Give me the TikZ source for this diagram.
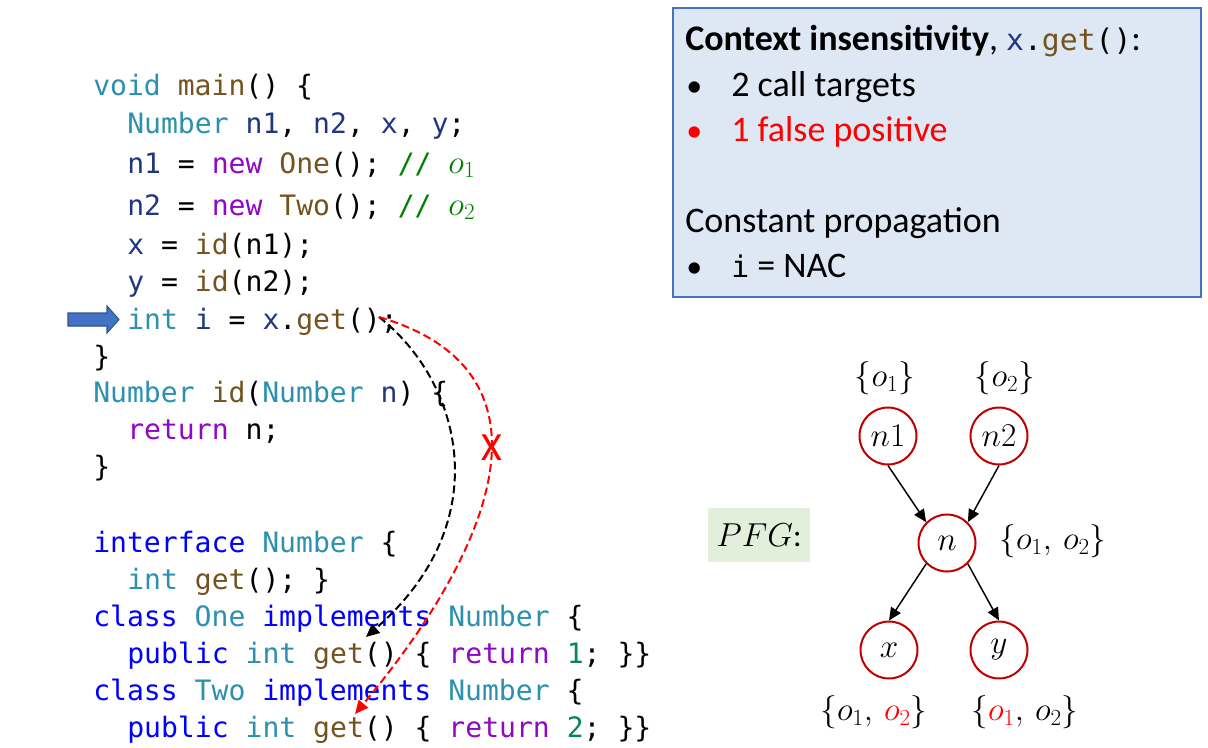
\documentclass[tikz,border=0pt]{standalone}
\usepackage{fontspec}
\setmainfont{Carlito}
\setmonofont{DejaVu Sans Mono}
\usetikzlibrary{arrows.meta}

% syntax colours of the code listing
\definecolor{kwblue}{HTML}{0000FF}
\definecolor{typeteal}{HTML}{2B91AF}
\definecolor{fnbrown}{HTML}{74531F}
\definecolor{varnavy}{HTML}{1F377F}
\definecolor{ctlpurple}{HTML}{8F08C4}
\definecolor{numgreen}{HTML}{098658}
\definecolor{comgreen}{HTML}{008000}
% other colours
\definecolor{boxblue}{HTML}{4472C4}
\definecolor{boxfill}{HTML}{DEE8F5}
\definecolor{markborder}{HTML}{2F528F}
\definecolor{pfgred}{HTML}{C00000}
\definecolor{pfgfill}{HTML}{E2EFDA}

\newcommand\ckw[1]{\textcolor{kwblue}{#1}}
\newcommand\cty[1]{\textcolor{typeteal}{#1}}
\newcommand\cfn[1]{\textcolor{fnbrown}{#1}}
\newcommand\cva[1]{\textcolor{varnavy}{#1}}
\newcommand\cct[1]{\textcolor{ctlpurple}{#1}}
\newcommand\cnu[1]{\textcolor{numgreen}{#1}}
\newcommand\cco[1]{\textcolor{comgreen}{#1}}
\newcommand\codefont{\ttfamily\fontsize{21.06}{25}\selectfont}
\newcommand\objname[1]{{\fontsize{25}{25}\selectfont$o_{#1}$}}
\newcommand\smallbullet{{\fontsize{24}{24}\selectfont\textbullet}}

\begin{document}
\begin{tikzpicture}[x=0.75pt, y=-0.75pt,
  code/.style={anchor=base west, inner sep=0pt, font=\codefont},
  boxtext/.style={anchor=base west, inner sep=0pt, font=\fontsize{27}{32}\selectfont},
  pnode/.style={circle, draw=pfgred, line width=1.5pt, minimum size=42.75pt,
    inner sep=0pt, font=\fontsize{26}{26}\selectfont},
  ptsset/.style={inner sep=0pt, font=\fontsize{24.5}{24.5}\selectfont},
  flow/.style={line width=1.1pt, -{Triangle[length=9.5pt,width=8.5pt]}},
  calledge/.style={line width=1.5pt, dash pattern=on 6pt off 3pt,
    -{Triangle[length=10pt,width=9pt]}}]
\useasboundingbox (0,0) rectangle (1208,747);

% ---------------- code listing ----------------
\node[code] (l1)  at (93,95)   {\cty{void} \cfn{main}() \{};
\node[code] (l2)  at (127,133) {\cty{Number} \cva{n1}, \cva{n2}, \cva{x}, \cva{y};};
\node[code] (l3)  at (127,173) {\cva{n1} = \cct{new} \cfn{One}(); \cco{// \objname{1}}};
\node[code] (l4)  at (127,215) {\cva{n2} = \cct{new} \cfn{Two}(); \cco{// \objname{2}}};
\node[code] (l5)  at (127,254) {\cva{x} = \cfn{id}(n1);};
\node[code] (l6)  at (127,291) {\cva{y} = \cfn{id}(n2);};
\node[code] (l7)  at (127,329) {\cty{int} \cva{i} = \cva{x}.\cfn{get}();};
\node[code] (l8)  at (93,366)  {\}};
\node[code] (l9)  at (93,402)  {\cty{Number} \cfn{id}(\cty{Number} \cva{n}) \{};
\node[code] (l10) at (127,439) {\cct{return} n;};
\node[code] (l11) at (93,476)  {\}};
\node[code] (l13) at (93,552)  {\ckw{interface} \cty{Number} \{};
\node[code] (l14) at (127,589) {\cty{int} \cfn{get}(); \}};
\node[code] (l15) at (93,626)  {\ckw{class} \cty{One} \ckw{implements} \cty{Number} \{};
\node[code] (l16) at (127,663) {\ckw{public} \cty{int} \cfn{get}() \{ \cct{return} \cnu{1}; \}\}};
\node[code] (l17) at (93,700)  {\ckw{class} \cty{Two} \ckw{implements} \cty{Number} \{};
\node[code] (l18) at (127,737) {\ckw{public} \cty{int} \cfn{get}() \{ \cct{return} \cnu{2}; \}\}};

% current-statement marker
\path[fill=boxblue, draw=markborder, line width=0.8pt]
  (68,313) -- (107,313) -- (107,306) -- (119,319.5) -- (107,333) -- (107,326) -- (68,326) -- cycle;

% call edges from x.get() to the two get() bodies
\coordinate (call)  at (379,317);
\coordinate (tgtone) at (366,637);
\coordinate (tgttwo) at (355,714);
\draw[calledge, black] (call) .. controls (460,380) and (500,520) .. (tgtone);
\draw[calledge, red] (call) .. controls (560,370) and (500,540) .. (tgttwo);
\node[text=red, inner sep=0pt, font=\fontsize{30}{30}\selectfont] (cross) at (492,448) {X};

% ---------------- summary box ----------------
\node[draw=boxblue, fill=boxfill, line width=1.5pt, minimum width=396pt,
  minimum height=216.75pt, inner sep=0pt] (summary) at (936.5,152) {};
\node[boxtext] (t1) at (685,50) {\textbf{Context insensitivity}, {\ttfamily\fontsize{22.3}{27}\selectfont\cva{x}.\cfn{get}()}:};
\node[boxtext] (b2) at (686,96)  {\smallbullet};
\node[boxtext] (t2) at (731,96)  {2 call targets};
\node[boxtext, text=red] (b3) at (686,141) {\smallbullet};
\node[boxtext, text=red] (t3) at (731,141) {1 false positive};
\node[boxtext] (t4) at (685,232) {Constant propagation};
\node[boxtext] (b5) at (686,277) {\smallbullet};
\node[boxtext] (t5) at (731,277) {{\ttfamily\fontsize{22.3}{27}\selectfont i} = NAC};

% ---------------- pointer flow graph ----------------
\node[fill=pfgfill, minimum width=76.5pt, minimum height=40.5pt, inner sep=0pt,
  font=\fontsize{24}{24}\selectfont] (pfg) at (759,535) {$PFG$:};

\node[pnode] (n1) at (888,436) {$n1$};
\node[pnode] (n2) at (999,436) {$n2$};
\node[pnode] (n)  at (947,543) {$n$};
\node[pnode] (x)  at (889,650) {$x$};
\node[pnode] (y)  at (999,650) {$y$};

\draw[flow] (n1.south) -- (n.north west);
\draw[flow] (n2.south) -- (n.north east);
\draw[flow] (n.south west) -- (x.north);
\draw[flow] (n.south east) -- (y.north);

\node[ptsset] (s1) at (885,378)  {$\{o_1\}$};
\node[ptsset] (s2) at (1005,378) {$\{o_2\}$};
\node[ptsset] (sn) at (1053,541) {$\{o_1,\, o_2\}$};
\node[ptsset] (sx) at (874,712)  {$\{o_1,\, \textcolor{red}{o_2}\}$};
\node[ptsset] (sy) at (1025,712) {$\{\textcolor{red}{o_1},\, o_2\}$};
\end{tikzpicture}
\end{document}
